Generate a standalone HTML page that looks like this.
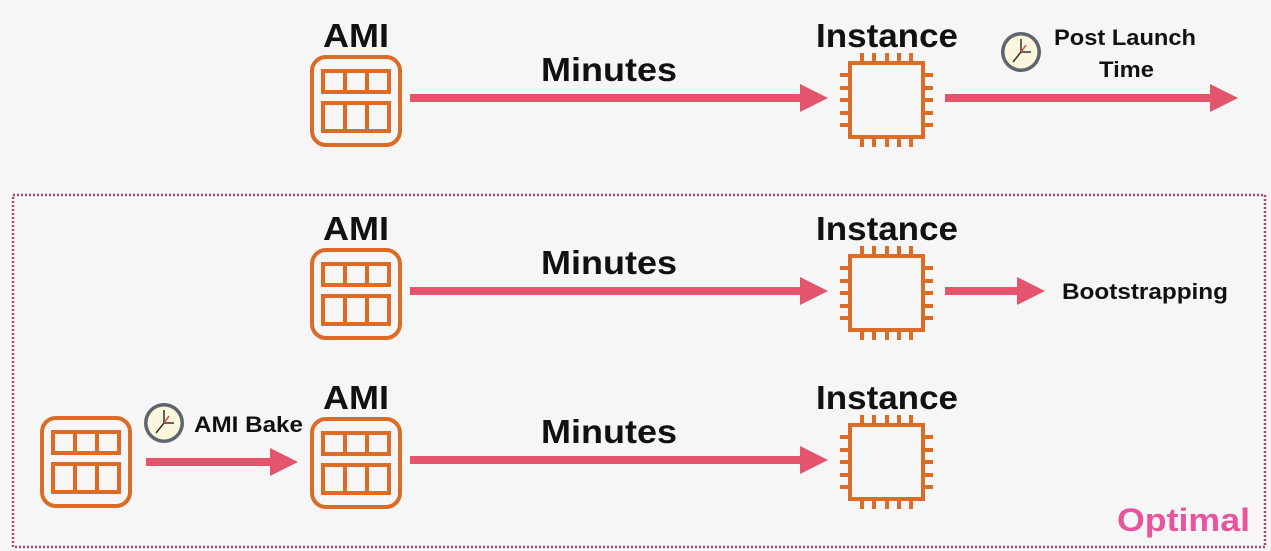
<!DOCTYPE html>
<html><head><style>
html,body{margin:0;padding:0;background:#f6f6f6}
svg{display:block}
text{font-family:"Liberation Sans",sans-serif;font-weight:bold;fill:#111}
</style></head><body>
<svg width="1271" height="551" viewBox="0 0 1271 551" xmlns="http://www.w3.org/2000/svg">
<defs>
<g id="ami" fill="none" stroke="#dc6b25" stroke-width="4">
<rect x="2" y="2" width="88" height="88" rx="14"/>
<rect x="13" y="16" width="66" height="21"/>
<rect x="13" y="48" width="66" height="28"/>
<line x1="35" y1="16" x2="35" y2="37"/><line x1="57" y1="16" x2="57" y2="37"/>
<line x1="35" y1="48" x2="35" y2="76"/><line x1="57" y1="48" x2="57" y2="76"/>
</g>
<g id="chip" fill="none" stroke="#dc6b25" stroke-width="4">
<rect x="0" y="0" width="73" height="74"/>
<path d="M12 0v-10M24 0v-10M37 0v-10M49 0v-10M61 0v-10M12 74v10M24 74v10M37 74v10M49 74v10M61 74v10M0 12h-10M0 25h-10M0 37h-10M0 50h-10M0 62h-10M73 12h10M73 25h10M73 37h10M73 50h10M73 62h10"/>
</g>
<g id="clock">
<circle r="20" fill="#5d6470"/><circle r="16.5" fill="#fbf7dc"/>
<line x1="0" y1="0" x2="0" y2="-13" stroke="#333" stroke-width="1.5"/>
<line x1="0" y1="0" x2="10" y2="0" stroke="#333" stroke-width="1.5"/>
<line x1="0" y1="0" x2="-8" y2="10" stroke="#333" stroke-width="1.5"/>
<line x1="0" y1="0" x2="5" y2="-7" stroke="#d44" stroke-width="1.5"/>
</g>
</defs>
<rect x="13" y="195" width="1252" height="352" fill="none" stroke="#a84a6e" stroke-width="2.5" stroke-dasharray="2 2"/>
<g fill="#e4546c">
<rect x="410" y="94" width="392" height="8"/><polygon points="800,84 828,98 800,112"/>
<rect x="945" y="94" width="267" height="8"/><polygon points="1210,84 1238,98 1210,112"/>
<rect x="410" y="287" width="392" height="8"/><polygon points="800,277 828,291 800,305"/>
<rect x="945" y="287" width="75" height="8"/><polygon points="1017,277 1045,291 1017,305"/>
<rect x="410" y="456" width="392" height="8"/><polygon points="800,446 828,460 800,474"/>
<rect x="146" y="458" width="126" height="8"/><polygon points="270,448 298,462 270,476"/>
</g>
<use href="#ami" x="310" y="55"/>
<use href="#ami" x="310" y="248"/>
<use href="#ami" x="310" y="417"/>
<use href="#ami" x="40" y="416"/>
<use href="#chip" x="850" y="63"/>
<use href="#chip" x="850" y="256"/>
<use href="#chip" x="850" y="425"/>
<use href="#clock" x="1021" y="52"/>
<use href="#clock" x="164" y="423"/>
<g font-size="33">
<text x="323" y="47" textLength="66" lengthAdjust="spacingAndGlyphs">AMI</text>
<text x="323" y="240" textLength="66" lengthAdjust="spacingAndGlyphs">AMI</text>
<text x="323" y="409" textLength="66" lengthAdjust="spacingAndGlyphs">AMI</text>
<text x="541" y="81" textLength="136" lengthAdjust="spacingAndGlyphs">Minutes</text>
<text x="541" y="274" textLength="136" lengthAdjust="spacingAndGlyphs">Minutes</text>
<text x="541" y="443" textLength="136" lengthAdjust="spacingAndGlyphs">Minutes</text>
<text x="816" y="47" textLength="142" lengthAdjust="spacingAndGlyphs">Instance</text>
<text x="816" y="240" textLength="142" lengthAdjust="spacingAndGlyphs">Instance</text>
<text x="816" y="409" textLength="142" lengthAdjust="spacingAndGlyphs">Instance</text>
</g>
<g font-size="22">
<text x="1054" y="45" textLength="142" lengthAdjust="spacingAndGlyphs">Post Launch</text>
<text x="1099" y="77" textLength="55" lengthAdjust="spacingAndGlyphs">Time</text>
<text x="1062" y="299" textLength="166" lengthAdjust="spacingAndGlyphs">Bootstrapping</text>
<text x="194" y="432" textLength="109" lengthAdjust="spacingAndGlyphs">AMI Bake</text>
</g>
<text x="1117" y="531" font-size="32" textLength="133" lengthAdjust="spacingAndGlyphs" style="fill:#e8559f">Optimal</text>
</svg>
</body></html>
